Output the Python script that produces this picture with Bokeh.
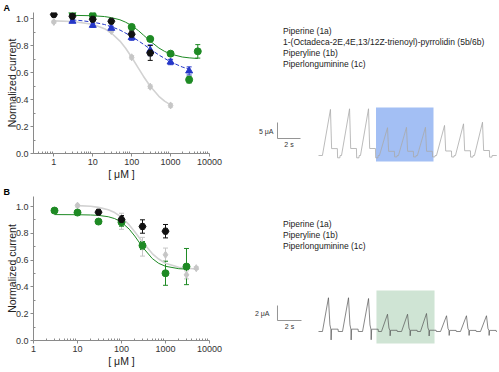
from bokeh.plotting import figure
from bokeh.models import (ColumnDataSource, Whisker, TeeHead, Label, Legend, LegendItem,
                          FixedTicker, BasicTickFormatter, PrintfTickFormatter)
from bokeh.layouts import column, row
from bokeh.embed import file_html
from bokeh.resources import INLINE

FONT = "Liberation Sans"
GREY = "#c6c6c6"
GREY_FIT = "#d2d2d2"
BLUE = "#2537c8"
GREEN = "#1e8a24"
BLACK = "#111111"

# ---------------- Panel A data (concentration in uM, normalized current) ----------------
A_conc_1a = [1, 30, 100, 300, 1000]
A_val_1a = [0.975, 0.908, 0.713, 0.495, 0.356]
A_err_1a = [0.008, 0.01, 0.012, 0.012, 0.012]

A_conc_5b = [3, 10, 30, 100, 300, 1000, 3000]
A_val_5b = [0.98, 0.95, 0.928, 0.859, 0.765, 0.678, 0.612]
A_err_5b = [0.01, 0.015, 0.015, 0.02, 0.04, 0.02, 0.03]

A_conc_1b = [3, 10, 100, 300, 1000, 3000, 5000]
A_val_1b = [1.047, 1.025, 0.938, 0.849, 0.74, 0.547, 0.757]
A_err_1b = [0.012, 0.01, 0.015, 0.015, 0.015, 0.025, 0.05]

A_conc_1c = [1, 3, 10, 30, 100, 300]
A_val_1c = [1.03, 1.017, 0.995, 0.98, 0.884, 0.745]
A_err_1c = [0.01, 0.015, 0.015, 0.015, 0.025, 0.055]

# fitted curves
A_fit_1a_x = [1, 3, 10, 20, 30, 50, 70, 100, 150, 200, 300, 500, 700, 1000]
A_fit_1a_y = [0.983, 0.978, 0.958, 0.925, 0.893, 0.833, 0.780, 0.713, 0.631, 0.573, 0.498, 0.424, 0.388, 0.360]
A_fit_5b_x = [3, 5, 10, 20, 30, 50, 100, 200, 300, 500, 1000, 2000, 3000]
A_fit_5b_y = [0.990, 0.985, 0.974, 0.956, 0.940, 0.915, 0.868, 0.810, 0.774, 0.730, 0.679, 0.641, 0.625]
A_fit_1b_x = [3, 10, 20, 30, 50, 70, 100, 150, 200, 300, 500, 700, 1000, 2000, 3000, 5000]
A_fit_1b_y = [1.024, 1.021, 1.015, 1.007, 0.991, 0.973, 0.948, 0.910, 0.878, 0.833, 0.782, 0.757, 0.737, 0.715, 0.709, 0.704]

# ---------------- Panel B data ----------------
B_conc_1a = [10, 100, 300, 1000, 3000, 5000]
B_val_1a = [1.007, 0.89, 0.70, 0.64, 0.49, 0.54]
B_err_1a = [0.01, 0.06, 0.07, 0.05, 0.03, 0.01]

B_conc_1b = [3, 10, 30, 100, 300, 1000, 3000]
B_val_1b = [0.97, 0.955, 0.888, 0.883, 0.709, 0.502, 0.552]
B_err_1b = [0.01, 0.01, 0.01, 0.03, 0.03, 0.09, 0.135]

B_conc_1c = [30, 100, 300, 1000]
B_val_1c = [0.958, 0.903, 0.851, 0.816]
B_err_1c = [0.015, 0.03, 0.05, 0.05]

B_fit_1a_x = [10, 20, 30, 50, 70, 100, 150, 200, 300, 500, 700, 1000, 2000, 3000, 5000]
B_fit_1a_y = [1.007, 1.002, 0.994, 0.976, 0.955, 0.920, 0.863, 0.812, 0.735, 0.649, 0.608, 0.577, 0.547, 0.539, 0.534]
B_fit_1b_x = [3, 10, 20, 30, 50, 70, 100, 150, 200, 300, 500, 700, 1000, 2000, 3000]
B_fit_1b_y = [0.940, 0.939, 0.937, 0.934, 0.924, 0.910, 0.883, 0.831, 0.780, 0.698, 0.612, 0.576, 0.554, 0.536, 0.533]

# axis ticks
X_TICKS = [1, 10, 100, 1000, 10000]
Y_TICKS = [0.0, 0.2, 0.4, 0.6, 0.8, 1.0]
Y_MINOR = [0.1, 0.3, 0.5, 0.7, 0.9]

# ---------------- Current traces (time s, current uA) ----------------
TR_A_onsets = [0.34, 2.0, 3.65, 5.3, 6.95, 8.6, 10.26, 11.91, 13.56]
TR_A_peaks = [14.4, 14.6, 14.6, 8.7, 8.8, 8.8, 9.4, 9.9, 10.4]
TR_A_shape_t = [0.0, 0.7, 0.8, 1.3, 1.32, 1.52, 1.54]
TR_A_shape_f = [0.0, 1.0, 0.15, 0.15, -0.05, -0.05, 0.0]
TR_A_end = 15.5
TR_A_box = (5.0, 10.0, -1.875, 15.0)     # application window (s) x current span (uA)

TR_B_onsets = [0.33, 2.0, 3.67, 5.25, 6.92, 8.5, 10.17, 11.83, 13.5]
TR_B_peaks = [4.5, 4.5, 4.4, 2.3, 2.3, 2.4, 2.1, 2.1, 2.1]
TR_B_shape_t = [0.0, 0.5, 0.62, 0.7, 0.72, 0.76, 0.8, 1.3, 1.32]
TR_B_shape_f = [0.0, 1.0, 0.2, 0.07, -0.25, 0.07, 0.07, 0.07, 0.0]
TR_B_end = 14.9
TR_B_box = (4.83, 9.67, -1.6, 5.47)

LEG_A = ["Piperine (1a)", "1-(Octadeca-2E,4E,13/12Z-trienoyl)-pyrrolidin (5b/6b)",
         "Piperyline (1b)", "Piperlonguminine (1c)"]
LEG_B = ["Piperine (1a)", "Piperyline (1b)", "Piperlonguminine (1c)"]

STYLE = {
    "1a": dict(marker="diamond", size=7, color=GREY),
    "5b": dict(marker="triangle", size=7, color=BLUE),
    "1b": dict(marker="circle", size=7, color=GREEN),
    "1c": dict(marker="hex", size=7, color=BLACK),
}


def dose_panel(height, x_range, y_top, letter, series, fits):
    W, left, right, top, bottom = 250, 33, 41, 12, 31
    p = figure(width=W, height=height, x_axis_type="log", x_range=x_range, y_range=(0, y_top),
               output_backend="svg", toolbar_location=None,
               min_border_left=left, min_border_right=right, min_border_top=top,
               min_border_bottom=bottom)
    p.frame_align = False
    p.outline_line_color = None
    p.xgrid.visible = False
    p.ygrid.visible = False
    p.background_fill_color = None
    p.border_fill_color = None

    p.title.text = letter
    p.title.text_font = FONT
    p.title.text_font_size = "9px"
    p.title.text_font_style = "bold"
    p.title.text_color = "#000000"
    p.title.align = "left"
    p.title.offset = -30
    p.title.standoff = 0

    for fx, fy, color, dash, w in fits:
        p.line(fx, fy, line_color=color, line_width=w, line_dash=dash)

    for key, xs, ys, es in series:
        st = STYLE[key]
        src = ColumnDataSource(dict(x=xs, y=ys,
                                    upper=[v + e for v, e in zip(ys, es)],
                                    lower=[v - e for v, e in zip(ys, es)]))
        wk = Whisker(source=src, base="x", upper="upper", lower="lower",
                     line_color=st["color"], line_width=1,
                     upper_head=TeeHead(size=5, line_color=st["color"], line_width=1),
                     lower_head=TeeHead(size=5, line_color=st["color"], line_width=1))
        p.add_layout(wk)
        p.scatter("x", "y", source=src, marker=st["marker"], size=st["size"],
                  fill_color=st["color"], line_color=st["color"])

    for ax in (p.xaxis[0], p.yaxis[0]):
        ax.axis_line_color = "#8a8a8a"
        ax.major_tick_line_color = "#8a8a8a"
        ax.minor_tick_line_color = "#8a8a8a"
        ax.major_tick_out = 3
        ax.major_tick_in = 0
        ax.minor_tick_out = 0
        ax.minor_tick_in = 2
        ax.major_label_text_font = FONT
        ax.major_label_text_font_size = "9px"
        ax.major_label_text_color = "#333333"
        ax.major_label_standoff = 2
        ax.axis_label_text_font = FONT
        ax.axis_label_text_font_size = "10.5px"
        ax.axis_label_text_font_style = "normal"
        ax.axis_label_text_color = "#222222"

    minor_x = [m * 10 ** e for e in range(-1, 4) for m in range(2, 10)]
    p.xaxis.ticker = FixedTicker(ticks=X_TICKS, minor_ticks=minor_x)
    p.xaxis.formatter = BasicTickFormatter(use_scientific=False)
    p.xaxis.axis_label = "[ μM ]"
    p.xaxis.axis_label_standoff = 0
    p.yaxis.ticker = FixedTicker(ticks=Y_TICKS, minor_ticks=Y_MINOR)
    p.yaxis.formatter = PrintfTickFormatter(format="%.1f")
    p.yaxis.axis_label = "Normalized current"
    p.yaxis.axis_label_standoff = -5
    return p


def trace_panel(height, top, xr, yr, onsets, peaks, sh_t, sh_f, t_end, box, box_color,
                tr_color, tr_w, sb_origin, sb_amp, sb_label, sb_dx, leg_labels, leg_keys):
    W = 247
    p = figure(width=W, height=height, x_range=xr, y_range=yr, output_backend="svg",
               toolbar_location=None, min_border_left=0, min_border_right=0,
               min_border_bottom=0, min_border_top=top,
               x_axis_location=None, y_axis_location=None)
    p.frame_align = False
    p.outline_line_color = None
    p.grid.visible = False
    p.background_fill_color = None
    p.border_fill_color = None

    p.quad(left=[box[0]], right=[box[1]], bottom=[box[2]], top=[box[3]],
           fill_color=box_color, line_color=None)

    t = [0.0]
    y = [0.0]
    for on, pk in zip(onsets, peaks):
        for tt, ff in zip(sh_t, sh_f):
            t.append(on + tt)
            y.append(pk * ff)
    t.append(t_end)
    y.append(0.0)
    p.line(t, y, line_color=tr_color, line_width=tr_w)

    # scale bar: 2 s horizontal, sb_amp uA vertical
    x0, y0 = sb_origin
    p.line([x0, x0, x0 + 2.0], [y0 + sb_amp, y0, y0], line_color="#7a7a7a", line_width=0.8)
    p.add_layout(Label(x=x0, x_offset=sb_dx, y=y0 + sb_amp * 0.45, text=sb_label,
                       text_font=FONT, text_font_size="7px", text_color="#333333",
                       text_align="right", text_baseline="middle"))
    p.add_layout(Label(x=x0 + 1.0, y=y0, y_offset=-2, text="2 s", text_font=FONT,
                       text_font_size="7px", text_color="#333333", text_align="center",
                       text_baseline="top"))

    items = []
    for lab, key in zip(leg_labels, leg_keys):
        st = STYLE[key]
        r = p.scatter(x=[], y=[], marker=st["marker"], fill_color=st["color"],
                      line_color=st["color"])
        items.append(LegendItem(label=lab, renderers=[r]))
    leg = Legend(items=items, location="top_left", glyph_width=10, glyph_height=11,
                 label_height=11, spacing=0, label_standoff=15, padding=0, margin=8,
                 border_line_color=None, background_fill_alpha=0,
                 label_text_font=FONT, label_text_font_size="8.5px", label_text_color="#222222")
    p.add_layout(leg)
    return p


fA = dose_panel(184, (0.3, 10000), 1.045, "A",
                [("1a", A_conc_1a, A_val_1a, A_err_1a),
                 ("5b", A_conc_5b, A_val_5b, A_err_5b),
                 ("1b", A_conc_1b, A_val_1b, A_err_1b),
                 ("1c", A_conc_1c, A_val_1c, A_err_1c)],
                [(A_fit_1a_x, A_fit_1a_y, GREY_FIT, "solid", 1.6),
                 (A_fit_5b_x, A_fit_5b_y, BLUE, "4 2", 1.0),
                 (A_fit_1b_x, A_fit_1b_y, GREEN, "solid", 1.0)])

fB = dose_panel(187, (1, 10000), 1.075, "B",
                [("1a", B_conc_1a, B_val_1a, B_err_1a),
                 ("1b", B_conc_1b, B_val_1b, B_err_1b),
                 ("1c", B_conc_1c, B_val_1c, B_err_1c)],
                [(B_fit_1a_x, B_fit_1a_y, GREY_FIT, "solid", 1.6),
                 (B_fit_1b_x, B_fit_1b_y, GREEN, "solid", 1.0)])

rA = trace_panel(184, 17, (-5.913, 15.565), (-9.06, 43.125), TR_A_onsets, TR_A_peaks,
                 TR_A_shape_t, TR_A_shape_f, TR_A_end, TR_A_box, "#a3bff4", "#aaaaaa", 0.8,
                 (-3.565, 5.31), 5.0, "5 μA", -4, LEG_A, ["1a", "5b", "1b", "1c"])

rB = trace_panel(187, 26, (-5.667, 14.917), (-5.33, 16.13), TR_B_onsets, TR_B_peaks,
                 TR_B_shape_t, TR_B_shape_f, TR_B_end, TR_B_box, "#cfe4d4", "#555555", 0.7,
                 (-3.417, 1.467), 2.0, "2 μA", -8, LEG_B, ["1a", "1b", "1c"])

layout = column(row(fA, rA), row(fB, rB))
open("out.html", "w").write(file_html(layout, INLINE))
